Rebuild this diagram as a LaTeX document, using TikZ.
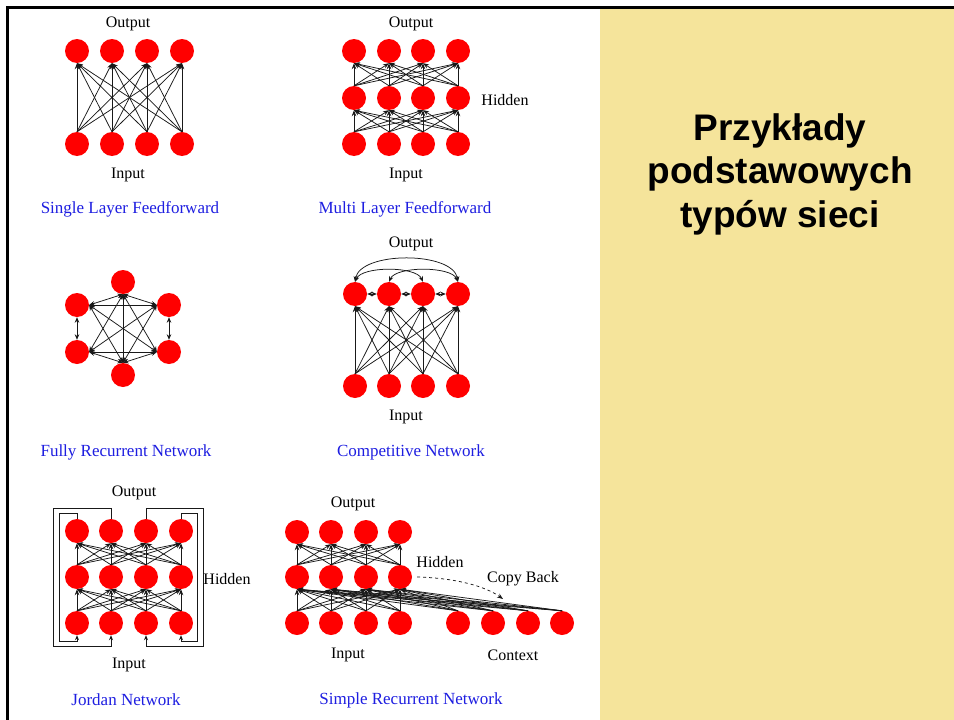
\documentclass[tikz,border=0pt]{standalone}
\usepackage{fontspec}
\setmainfont{Liberation Serif}
\newfontfamily\titlefont{Liberation Sans}
\usetikzlibrary{arrows.meta}
\definecolor{panel}{RGB}{245,228,155}
\definecolor{capblue}{RGB}{30,30,225}
\begin{document}
\begin{tikzpicture}[x=1pt,y=-1pt,
  neuron/.style={circle,fill=red,draw=none,minimum size=24pt,inner sep=0pt},
  lbl/.style={font=\fontsize{16}{18}\selectfont,text=black,inner sep=0pt,yshift=-2pt},
  captxt/.style={font=\fontsize{17}{19}\selectfont,text=capblue,inner sep=0pt,yshift=-2pt},
  conn/.style={draw=black!90,line width=0.75pt,-{Stealth[length=6pt,width=4.5pt]}},
  biconn/.style={draw=black!90,line width=0.75pt,{Stealth[length=5.5pt,width=4.5pt]}-{Stealth[length=5.5pt,width=4.5pt]}},
  loopconn/.style={draw=black!90,line width=1pt,-{Stealth[length=5pt,width=4pt]}},
]
\useasboundingbox (0,0) rectangle (954,720);
\fill[white] (0,0) rectangle (954,720);
\fill[panel] (600,8) rectangle (954,720);
\draw[line width=3pt] (6,7) -- (954,7);
\draw[line width=3pt] (7,6) -- (7,720);

% title
\node[font=\titlefont\bfseries\fontsize{37}{43.5}\selectfont,align=center,inner sep=0pt] (title) at (780,174) {Przykłady\\podstawowych\\typów sieci};

% ---------- Single Layer Feedforward
\foreach \x [count=\i] in {77,112,147,182} {
  \node[neuron] (s-o\i) at (\x,51) {};
  \node[neuron] (s-i\i) at (\x,144) {};
}
\foreach \i in {1,...,4} \foreach \j in {1,...,4} \draw[conn] (s-i\i.north) -- (s-o\j.south);
\node[lbl] (s-out) at (128,22) {Output};
\node[lbl] (s-in) at (128,173) {Input};
\node[captxt] (s-cap) at (130,207) {Single Layer Feedforward};

% ---------- Multi Layer Feedforward
\foreach \x [count=\i] in {354,389,423,458} {
  \node[neuron] (m-o\i) at (\x,51) {};
  \node[neuron] (m-h\i) at (\x,98) {};
  \node[neuron] (m-i\i) at (\x,144) {};
}
\foreach \i in {1,...,4} \foreach \j in {1,...,4} {
  \draw[conn] (m-i\i.north) -- (m-h\j.south);
  \draw[conn] (m-h\i.north) -- (m-o\j.south);
}
\node[lbl] (m-out) at (411,22) {Output};
\node[lbl] (m-hid) at (505,98) {Hidden};
\node[lbl] (m-in) at (406,173) {Input};
\node[captxt] (m-cap) at (405,207) {Multi Layer Feedforward};

% ---------- Fully Recurrent Network
\node[neuron] (f-t) at (123,282) {};
\node[neuron] (f-ul) at (77,305) {};
\node[neuron] (f-ur) at (169,305) {};
\node[neuron] (f-ll) at (77,352) {};
\node[neuron] (f-lr) at (169,352) {};
\node[neuron] (f-b) at (123,375) {};
\draw[biconn] (f-t.south) -- (f-ul.east);
\draw[biconn] (f-t.south) -- (f-ur.west);
\draw[biconn] (f-t.south) -- (f-ll.east);
\draw[biconn] (f-t.south) -- (f-lr.west);
\draw[biconn] (f-t.south) -- (f-b.north);
\draw[biconn] (f-ul.east) -- (f-ur.west);
\draw[biconn] (f-ul.south) -- (f-ll.north);
\draw[biconn] (f-ul.east) -- (f-lr.west);
\draw[biconn] (f-ul.east) -- (f-b.north);
\draw[biconn] (f-ur.west) -- (f-ll.east);
\draw[biconn] (f-ur.south) -- (f-lr.north);
\draw[biconn] (f-ur.west) -- (f-b.north);
\draw[biconn] (f-ll.east) -- (f-lr.west);
\draw[biconn] (f-ll.east) -- (f-b.north);
\draw[biconn] (f-lr.west) -- (f-b.north);
\node[captxt] (f-cap) at (126,450) {Fully Recurrent Network};

% ---------- Competitive Network
\foreach \x [count=\i] in {355,389,423,458} {
  \node[neuron] (c-o\i) at (\x,294) {};
  \node[neuron] (c-i\i) at (\x,386) {};
}
\foreach \i in {1,...,4} \foreach \j in {1,...,4} \draw[conn] (c-i\i.north) -- (c-o\j.south);
\draw[biconn] (c-o1.east) -- (c-o2.west);
\draw[biconn] (c-o2.east) -- (c-o3.west);
\draw[biconn] (c-o3.east) -- (c-o4.west);
\draw[biconn] (c-o1.north) .. controls (360,251) and (453,251) .. (c-o4.north);
\draw[biconn] (c-o1.north) .. controls (362,266) and (416,266) .. (c-o3.north);
\draw[biconn] (c-o2.north) .. controls (396,266) and (451,266) .. (c-o4.north);
\node[lbl] (c-out) at (411,242) {Output};
\node[lbl] (c-in) at (406,415) {Input};
\node[captxt] (c-cap) at (411,450) {Competitive Network};

% ---------- Jordan Network
\foreach \x [count=\i] in {77,111,146,181} {
  \node[neuron] (j-o\i) at (\x,531) {};
  \node[neuron] (j-h\i) at (\x,577) {};
  \node[neuron] (j-i\i) at (\x,623) {};
}
\foreach \i in {1,...,4} \foreach \j in {1,...,4} {
  \draw[conn] (j-i\i.north) -- (j-h\j.south);
  \draw[conn] (j-h\i.north) -- (j-o\j.south);
}
\coordinate (jL1) at (53,508);  \coordinate (jL2) at (53,646);
\coordinate (jl1) at (59,513);  \coordinate (jl2) at (59,641);
\coordinate (jR1) at (203,508); \coordinate (jR2) at (203,646);
\coordinate (jr1) at (197,513); \coordinate (jr2) at (197,641);
\draw[loopconn] (j-o2.north) |- (jL1) -- (jL2) -| (j-i2.south);
\draw[loopconn] (j-o1.north) |- (jl1) -- (jl2) -| (j-i1.south);
\draw[loopconn] (j-o3.north) |- (jR1) -- (jR2) -| (j-i3.south);
\draw[loopconn] (j-o4.north) |- (jr1) -- (jr2) -| (j-i4.south);
\node[lbl] (j-out) at (134,491) {Output};
\node[lbl] (j-hid) at (227,577) {Hidden};
\node[lbl] (j-in) at (129,663) {Input};
\node[captxt] (j-cap) at (126,698) {Jordan Network};

% ---------- Simple Recurrent Network
\foreach \x [count=\i] in {297,331,366,400} {
  \node[neuron] (r-o\i) at (\x,532) {};
  \node[neuron] (r-h\i) at (\x,577) {};
  \node[neuron] (r-i\i) at (\x,623) {};
}
\foreach \x [count=\i] in {458,493,528,562} {
  \node[neuron] (r-c\i) at (\x,623) {};
}
\foreach \i in {1,...,4} \foreach \j in {1,...,4} {
  \draw[conn] (r-i\i.north) -- (r-h\j.south);
  \draw[conn] (r-h\i.north) -- (r-o\j.south);
  \draw[conn] (r-c\i.north) -- (r-h\j.south);
}
\coordinate (cb) at (503,599);
\draw[dashed,draw=black!90,line width=0.75pt,-{Stealth[length=6pt,width=4.5pt]}] ([xshift=5pt]r-h4.east) .. controls (455,578) and (485,586) .. (cb);
\node[lbl] (r-out) at (353,502) {Output};
\node[lbl] (r-hid) at (440,560) {Hidden};
\node[lbl] (r-cb) at (523,577) {Copy Back};
\node[lbl] (r-in) at (348,653) {Input};
\node[lbl] (r-ctx) at (513,653) {Context};
\node[captxt] (r-cap) at (411,698) {Simple Recurrent Network};
\end{tikzpicture}
\end{document}
